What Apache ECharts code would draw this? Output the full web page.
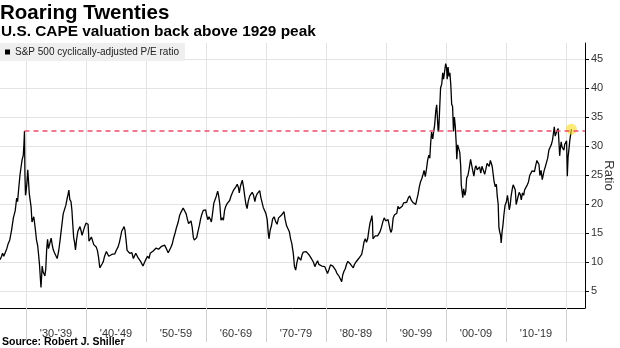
<!DOCTYPE html>
<html><head><meta charset="utf-8">
<script src="https://cdn.jsdelivr.net/npm/echarts@6/dist/echarts.min.js"></script>
<style>html,body{margin:0;padding:0;background:#fff}#c{width:620px;height:348px}</style>
</head><body><div id="c"></div>
<script>
// Decimal years of each reading
const years = [
1925.67,1925.9,1926.1,1926.3,1926.5,1926.8,1927.05,1927.3,1927.6,1927.9,1928.2,1928.45,1928.6,1928.8,1929.0,1929.2,1929.35,1929.55,1929.67,1929.75,1929.83,1929.92,
1930.0,1930.15,1930.3,1930.45,1930.55,1930.7,1930.85,1931.0,1931.15,1931.3,1931.45,1931.6,1931.75,1931.95,1932.1,1932.25,1932.4,1932.5,1932.6,1932.7,1932.85,1933.0,1933.15,1933.3,1933.45,1933.6,1933.75,1933.9,1934.1,1934.2,1934.4,1934.55,1934.75,1935.0,1935.2,1935.45,1935.7,1935.95,1936.2,1936.45,1936.65,1936.85,1937.0,1937.15,1937.3,1937.5,1937.65,1937.8,1937.95,1938.1,1938.25,1938.45,1938.65,1938.85,1939.0,1939.2,1939.35,1939.55,1939.75,
1940.0,1940.2,1940.35,1940.5,1940.7,1940.9,1941.1,1941.3,1941.5,1941.7,1941.9,1942.1,1942.3,1942.5,1942.7,1942.9,1943.1,1943.4,1943.6,1943.8,1944.0,1944.3,1944.55,1944.8,1945.1,1945.35,1945.55,1945.8,1945.95,1946.15,1946.35,1946.5,1946.7,1946.85,1946.95,1947.1,1947.3,1947.5,1947.65,1947.9,1948.1,1948.3,1948.5,1948.7,1948.9,1949.1,1949.3,1949.5,1949.75,
1950.0,1950.25,1950.5,1950.7,1950.95,1951.2,1951.45,1951.7,1951.9,1952.1,1952.35,1952.6,1952.9,1953.1,1953.4,1953.7,1953.9,1954.1,1954.35,1954.6,1954.85,1955.1,1955.35,1955.6,1955.85,1956.0,1956.2,1956.35,1956.5,1956.7,1956.9,1957.1,1957.3,1957.5,1957.7,1957.9,1958.05,1958.3,1958.45,1958.65,1958.9,1959.1,1959.3,1959.55,1959.75,1959.95,
1960.1,1960.3,1960.5,1960.7,1960.9,1961.1,1961.3,1961.5,1961.7,1961.95,1962.1,1962.3,1962.5,1962.7,1962.9,1963.1,1963.3,1963.55,1963.75,1963.95,1964.15,1964.35,1964.55,1964.8,1965.0,1965.2,1965.4,1965.55,1965.75,1966.05,1966.25,1966.45,1966.65,1966.85,1967.05,1967.3,1967.5,1967.7,1967.9,1968.15,1968.3,1968.55,1968.75,1968.95,1969.15,1969.35,1969.55,1969.8,
1970.0,1970.2,1970.4,1970.5,1970.7,1970.9,1971.1,1971.35,1971.6,1971.85,1972.1,1972.35,1972.6,1972.85,1973.0,1973.2,1973.45,1973.7,1973.9,1974.1,1974.3,1974.55,1974.75,1974.95,1975.15,1975.4,1975.6,1975.8,1976.0,1976.2,1976.45,1976.7,1976.95,1977.2,1977.45,1977.7,1977.9,1978.15,1978.35,1978.6,1978.8,1979.0,1979.3,1979.55,1979.8,
1980.05,1980.25,1980.5,1980.75,1980.95,1981.15,1981.35,1981.6,1981.8,1982.0,1982.2,1982.45,1982.62,1982.8,1983.0,1983.2,1983.45,1983.65,1983.9,1984.1,1984.35,1984.55,1984.75,1985.0,1985.2,1985.45,1985.7,1985.95,1986.15,1986.35,1986.55,1986.75,1986.95,1987.15,1987.35,1987.55,1987.65,1987.75,1987.83,1988.0,1988.2,1988.4,1988.6,1988.8,1989.0,1989.25,1989.5,1989.7,1989.95,
1990.15,1990.35,1990.5,1990.7,1990.85,1991.0,1991.2,1991.4,1991.6,1991.8,1992.0,1992.2,1992.45,1992.7,1992.95,1993.2,1993.45,1993.7,1993.95,1994.2,1994.45,1994.7,1994.95,1995.15,1995.35,1995.55,1995.75,1995.95,1996.15,1996.35,1996.55,1996.75,1996.95,1997.15,1997.3,1997.45,1997.6,1997.8,1997.95,1998.1,1998.3,1998.45,1998.55,1998.7,1998.8,1998.95,1999.1,1999.3,1999.45,1999.6,1999.75,1999.95,
2000.1,2000.2,2000.35,2000.5,2000.65,2000.8,2000.95,2001.1,2001.25,2001.4,2001.55,2001.7,2001.8,2001.95,2002.1,2002.3,2002.45,2002.55,2002.7,2002.8,2002.95,2003.15,2003.3,2003.45,2003.65,2003.85,2004.1,2004.3,2004.45,2004.65,2004.85,2005.0,2005.2,2005.4,2005.6,2005.8,2006.0,2006.2,2006.45,2006.65,2006.85,2007.05,2007.2,2007.4,2007.55,2007.7,2007.85,2008.0,2008.2,2008.4,2008.55,2008.7,2008.82,2008.95,2009.1,2009.2,2009.35,2009.5,2009.65,2009.85,
2010.05,2010.25,2010.4,2010.55,2010.7,2010.85,2011.05,2011.2,2011.4,2011.55,2011.7,2011.85,2012.0,2012.2,2012.4,2012.55,2012.75,2012.95,2013.1,2013.3,2013.55,2013.75,2013.95,2014.15,2014.35,2014.55,2014.75,2014.95,2015.15,2015.35,2015.5,2015.65,2015.85,2016.05,2016.15,2016.35,2016.55,2016.75,2016.95,2017.15,2017.35,2017.55,2017.75,2017.95,2018.05,2018.2,2018.35,2018.5,2018.7,2018.8,2018.95,2019.05,2019.2,2019.35,2019.5,2019.65,2019.8,2019.95,
2020.1,2020.22,2020.35,2020.5,2020.65,2020.8,2020.92
];
// S&P 500 cyclically-adjusted P/E ratio
const cape = [
10.4,10.9,11.5,11.0,10.7,12.3,13.2,13.8,15.5,17.6,18.8,21.0,20.4,22.8,25.0,26.5,27.6,28.4,30.5,32.56,25.0,21.5,
22.0,23.5,25.9,23.5,21.8,22.0,19.5,16.9,17.2,17.8,16.6,15.3,13.8,12.8,11.3,9.6,7.2,5.6,7.4,9.3,8.3,8.0,7.6,8.8,12.2,13.9,12.3,12.1,13.7,14.1,12.8,12.1,11.6,11.5,10.6,11.9,13.9,16.1,18.3,18.6,19.8,20.9,21.6,22.4,20.8,20.4,19.0,16.5,14.2,13.4,12.1,14.0,15.3,15.6,16.1,15.3,14.6,14.4,16.0,
16.7,16.4,16.5,13.6,13.7,14.3,14.0,13.0,13.3,12.6,12.0,10.8,9.0,9.2,9.7,10.1,11.0,11.8,11.6,11.0,10.9,11.3,11.5,11.4,12.1,12.6,13.3,14.5,15.3,15.7,16.1,15.5,13.6,12.0,11.8,12.2,11.5,11.3,11.6,10.6,10.7,11.5,11.6,10.7,10.4,10.1,9.8,9.3,9.9,
10.5,11.0,10.6,11.5,11.7,11.9,11.6,12.4,12.4,12.2,12.5,12.7,12.8,12.9,12.3,11.6,11.5,12.4,13.0,14.1,15.0,16.0,16.8,18.0,18.6,18.8,19.3,19.0,18.7,18.3,17.4,16.6,16.5,17.1,16.0,14.2,13.8,14.0,14.2,15.2,16.3,17.4,18.2,18.9,18.6,19.0,
18.1,17.3,17.8,17.4,16.9,18.4,20.1,20.4,21.3,22.2,21.5,20.0,17.2,17.6,17.2,18.9,19.6,20.1,20.4,20.6,21.3,21.8,22.3,22.5,23.0,23.4,22.9,21.9,23.1,24.1,23.0,21.4,20.0,19.2,20.5,21.4,21.5,22.0,21.6,20.4,21.2,21.8,21.9,22.3,21.1,21.4,19.4,19.3,
18.3,17.3,14.8,14.0,15.5,16.2,17.4,17.8,17.0,16.5,17.6,17.9,18.1,18.4,18.7,17.3,16.2,16.5,15.2,14.0,13.2,11.5,9.2,8.6,9.9,10.9,10.7,10.3,11.2,11.7,11.5,11.8,11.8,11.2,10.8,10.5,10.0,9.2,9.7,10.2,9.6,9.4,9.3,9.4,9.2,
9.0,8.0,8.7,9.5,9.8,9.3,9.2,8.6,8.1,7.8,7.5,7.4,6.6,7.8,8.4,8.8,9.7,10.1,9.8,9.6,9.4,9.0,9.6,10.0,10.2,10.6,10.5,11.3,12.3,13.5,14.0,13.4,14.0,15.5,16.8,17.4,18.0,16.9,14.0,13.9,14.5,14.8,14.5,14.8,15.2,16.0,17.0,17.6,17.1,
17.0,17.3,17.3,15.5,15.1,15.6,17.6,18.1,18.0,18.4,19.6,19.2,19.5,19.6,20.2,20.4,20.3,21.0,21.4,20.7,20.3,20.6,19.9,20.2,21.7,22.9,23.8,24.3,25.0,25.8,24.7,26.0,27.6,28.4,27.9,30.5,32.4,31.2,32.5,33.5,36.0,37.1,37.2,32.5,32.9,36.5,40.0,40.7,42.6,41.5,41.7,44.2,
43.5,41.5,43.6,42.0,42.6,40.6,37.2,36.8,32.5,35.0,33.4,30.5,27.7,30.2,30.0,28.9,26.6,23.3,23.5,21.1,22.6,21.5,22.2,24.5,24.9,26.0,27.7,26.6,25.8,24.8,26.2,26.6,25.9,26.2,26.4,25.3,26.5,26.5,25.1,26.0,27.0,27.2,26.5,27.5,27.3,26.5,26.5,24.0,23.0,23.4,21.3,20.0,16.0,15.2,14.6,13.3,15.2,16.4,18.1,19.8,
20.3,21.5,20.3,19.0,19.8,21.3,22.6,23.3,23.3,22.4,19.9,19.6,21.2,22.0,21.6,20.7,21.9,21.5,22.4,22.7,23.3,23.8,24.9,24.8,25.7,25.7,25.6,26.6,27.5,27.2,26.8,24.9,25.8,24.2,24.0,25.7,26.4,26.6,27.9,29.3,29.4,30.2,31.0,32.5,33.3,31.7,31.6,32.6,33.0,31.2,28.3,29.5,30.7,29.8,30.1,29.3,30.3,30.6,
30.9,24.8,28.1,29.5,31.1,31.3,32.9
];
const decadeTicks = [1930,1940,1950,1960,1970,1980,1990,2000,2010,2020];
const decadeLabelPos = [1935,1945,1955,1965,1975,1985,1995,2005,2015];
const decadeLabels = ["'30-'39","'40-'49","'50-'59","'60-'69","'70-'79","'80-'89","'90-'99","'00-'09","'10-'19"];
const yTicks = [5,10,15,20,25,30,35,40,45];
const peak1929 = [1929.75, 32.56];
const latest = [2020.92, 32.9];

const seriesName = 'S&P 500 cyclically-adjusted P/E ratio';
const X_MIN = 1925.67, X_MAX = 2023.17, Y_MIN = 2.07, Y_MAX = 47.75;
const FONT = "'Liberation Sans', Arial, sans-serif";
const GRID_COLOR = '#e3e3e3';

const chart = echarts.init(document.getElementById('c'), null, {renderer: 'canvas'});
chart.setOption({
  animation: false,
  backgroundColor: '#fff',
  title: [
    {text: 'Roaring Twenties', left: 0, top: 3, padding: 0,
     textStyle: {fontFamily: FONT, fontWeight: 'bold', fontSize: 20.5, color: '#000'}},
    {text: 'U.S. CAPE valuation back above 1929 peak', left: 1, top: 24, padding: 0,
     textStyle: {fontFamily: FONT, fontWeight: 'bold', fontSize: 15.4, color: '#000'}},
    {text: 'Source: Robert J. Shiller', left: 2, top: 337, padding: 0,
     textStyle: {fontFamily: FONT, fontWeight: 'bold', fontSize: 10.5, color: '#000'}}
  ],
  legend: {
    left: 0, top: 43, padding: [4, 6, 4, 5], backgroundColor: '#efefef',
    itemWidth: 5, itemHeight: 5, icon: 'rect',
    textStyle: {fontFamily: FONT, fontSize: 10, color: '#222'},
    data: [{name: seriesName, itemStyle: {color: '#000'}}]
  },
  grid: {left: 0, right: 35, top: 43, bottom: 40, containLabel: false, outerBoundsMode: 'none'},
  xAxis: {
    type: 'value', min: X_MIN, max: X_MAX,
    axisLine: {show: true, onZero: false, lineStyle: {color: '#000', width: 1}},
    axisTick: {show: true, customValues: decadeTicks, length: 34, lineStyle: {color: '#d0d0d0'}},
    axisLabel: {customValues: decadeLabelPos, margin: 20,
      formatter: v => decadeLabels[decadeLabelPos.indexOf(Math.round(v))] || '',
      fontFamily: FONT, fontSize: 11, color: '#333'},
    splitLine: {show: false}
  },
  yAxis: {
    type: 'value', position: 'right', min: Y_MIN, max: Y_MAX,
    name: 'Ratio', nameLocation: 'middle', nameGap: 17, nameRotate: -90, nameMoveOverlap: false,
    nameTextStyle: {fontFamily: FONT, fontSize: 13, color: '#333'},
    axisLine: {show: true, lineStyle: {color: '#000', width: 1}},
    axisTick: {show: true, customValues: yTicks, length: 4, lineStyle: {color: '#000'}},
    axisLabel: {customValues: yTicks, margin: 6, fontFamily: FONT, fontSize: 11, color: '#333'},
    splitLine: {show: true, lineStyle: {color: GRID_COLOR, width: 1}}
  },
  series: [
    {
      // vertical decade gridlines, placed through the x/y scales
      type: 'custom', z: 1, silent: true, clip: false,
      data: decadeTicks.map(x => [x, Y_MIN, Y_MAX]),
      encode: {x: 0, y: [1, 2]},
      renderItem: function (params, api) {
        const bottom = api.coord([api.value(0), api.value(1)]);
        const top = api.coord([api.value(0), api.value(2)]);
        const px = Math.round(top[0]) + 0.5;
        return {
          type: 'line',
          shape: {x1: px, y1: top[1], x2: px, y2: bottom[1]},
          style: {stroke: GRID_COLOR, lineWidth: 1, fill: null}
        };
      }
    },
    {
      name: seriesName, type: 'line', symbol: 'none',
      data: years.map((y, i) => [y, cape[i]]),
      lineStyle: {color: '#000', width: 1.3}, itemStyle: {color: '#000'},
      z: 3,
      markLine: {
        silent: true, symbol: ['none', 'none'], label: {show: false},
        lineStyle: {color: '#ec4d6e', type: [5, 4], width: 1.5},
        data: [[{coord: peak1929}, {coord: [X_MAX, peak1929[1]]}]]
      }
    },
    {
      type: 'scatter', data: [latest], symbolSize: 11, z: 4,
      itemStyle: {color: 'rgba(250,222,40,0.8)'}
    }
  ]
});
</script>
</body></html>
